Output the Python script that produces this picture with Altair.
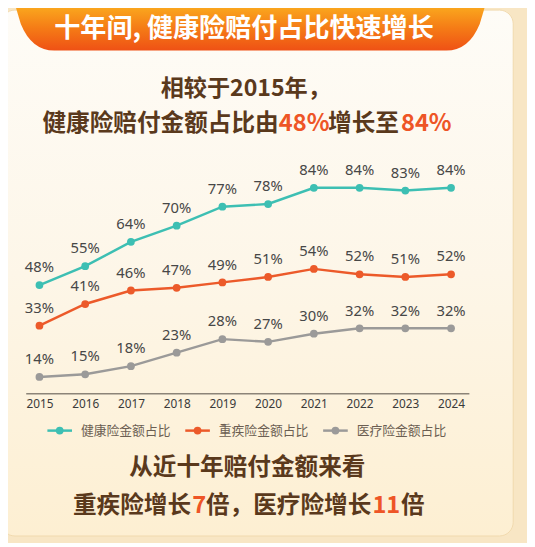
import altair as alt
import pandas as pd

# ---------------- data ----------------
years = [2015, 2016, 2017, 2018, 2019, 2020, 2021, 2022, 2023, 2024]
series_names = ["健康险金额占比", "重疾险金额占比", "医疗险金额占比"]
health = [48, 55, 64, 70, 77, 78, 84, 84, 83, 84]
critical = [33, 41, 46, 47, 49, 51, 54, 52, 51, 52]
medical = [14, 15, 18, 23, 28, 27, 30, 32, 32, 32]
series_colors = ["#3dbfb3", "#ec5a2a", "#9b9a99"]

title_text = "十年间, 健康险赔付占比快速增长"
sub_line1 = "相较于2015年，"
sub_line2 = [("健康险赔付金额占比由", "b"), ("48%", "o"), ("增长至", "b"), ("84%", "o")]
bottom_line1 = "从近十年赔付金额来看"
bottom_line2 = [("重疾险增长", "b"), ("7", "o"), ("倍，医疗险增长", "b"), ("11", "o"), ("倍", "b")]

rows = []
for name, vals in zip(series_names, [health, critical, medical]):
    for y, v in zip(years, vals):
        rows.append({"year": y, "series": name, "value": v, "label": f"{v}%"})
df = pd.DataFrame(rows)

# ---------------- layout helpers (page px -> plot px) ----------------
OX, OY = 26, 170          # page position of the plot origin
def px(x):
    return x - OX
def py(y):
    return y - OY

BROWN = "#5a391c"
ORANGE = "#ee5526"
CJK = "Noto Sans CJK SC"
one = alt.Data(values=[{}])

x_enc = alt.X("year:Q",
              scale=alt.Scale(domain=[2014.7, 2024.39], nice=False, zero=False),
              axis=alt.Axis(values=years, format="d", title=None, grid=False, ticks=False,
                            domainColor="#8c8478", domainWidth=1.5, labelFlush=False,
                            labelFont="Noto Sans", labelFontSize=12, labelColor="#3a3a3a",
                            labelPadding=6, zindex=1))
y_enc = alt.Y("value:Q", scale=alt.Scale(domain=[8, 90], nice=False, zero=False), axis=None)
color_enc = alt.Color("series:N", scale=alt.Scale(domain=series_names, range=series_colors),
                      legend=None)

# ---------------- background decoration ----------------
card = alt.Chart(one).mark_rect(
    cornerRadius=14,
    stroke="#f1d9ae", strokeWidth=1,
    fill=alt.Gradient(gradient="linear",
                      stops=[alt.GradientStop(color="#fefcf7", offset=0),
                             alt.GradientStop(color="#fdf6e8", offset=0.5),
                             alt.GradientStop(color="#fdefd2", offset=1)],
                      x1=0, x2=0, y1=0, y2=1),
).encode(x=alt.value(px(1)), x2=alt.value(px(521)), y=alt.value(py(6)), y2=alt.value(py(540)))

# banner shape (custom symbol path, unit box scaled by sqrt(size)/2)
HW = 239.0
banner_pts = "M -239 -23.5 L 239 -23.5 L 233 -3.5 Q 222 23.5 199 23.5 L -199 23.5 Q -222 23.5 -233 -3.5 Z"
def scale_path(p):
    out = []
    for tok in p.split():
        try:
            out.append(f"{float(tok) / HW:.5f}")
        except ValueError:
            out.append(tok)
    return " ".join(out)

banner = alt.Chart(one).mark_point(
    shape=scale_path(banner_pts), size=(2 * HW) ** 2, filled=True, opacity=1, strokeWidth=0,
    fill=alt.Gradient(gradient="linear",
                      stops=[alt.GradientStop(color="#fbad1f", offset=0),
                             alt.GradientStop(color="#f57d16", offset=0.5),
                             alt.GradientStop(color="#ef5115", offset=1)],
                      x1=0, x2=0, y1=0, y2=1),
).encode(x=alt.value(px(254)), y=alt.value(py(23.5)))

def txt(text, x, y, color, size, align="left", weight="bold", font=CJK):
    return alt.Chart(one).mark_text(
        text=text, align=align, baseline="middle", font=font, fontSize=size,
        fontWeight=weight, color=color,
    ).encode(x=alt.value(px(x)), y=alt.value(py(y)))

layers = [card, banner]
layers.append(txt(title_text, 55, 25.5, "#ffffff", 26.5))
layers.append(txt(sub_line1, 163, 86, BROWN, 23.5))
for (t, c), x in zip(sub_line2, [43, 283, 333, 407]):
    layers.append(txt(t, x, 122, ORANGE if c == "o" else BROWN, 24))
layers.append(txt(bottom_line1, 251, 471, BROWN, 24, align="center"))
for (t, c), x in zip(bottom_line2, [74, 195, 209, 378, 407]):
    layers.append(txt(t, x, 510, ORANGE if c == "o" else BROWN, 24))

# ---------------- data layers ----------------
base = alt.Chart(df).encode(x=x_enc, y=y_enc, color=color_enc, detail="series:N")
lines = base.mark_line(strokeWidth=2.5)
points = base.mark_point(filled=True, size=62, opacity=1)
labels = alt.Chart(df).mark_text(dy=-18, font="Noto Sans", fontSize=15, color="#474747").encode(
    x=x_enc, y=y_enc, text="label:N")
layers += [lines, points, labels]

# ---------------- manual legend ----------------
legend_left = [48, 188, 328]
LEG_Y = 433
for name, col, lx in zip(series_names, series_colors, legend_left):
    layers.append(alt.Chart(one).mark_rule(color=col, strokeWidth=2.5).encode(
        x=alt.value(px(lx)), x2=alt.value(px(lx + 25)), y=alt.value(py(LEG_Y))))
    layers.append(alt.Chart(one).mark_point(filled=True, size=62, opacity=1, color=col).encode(
        x=alt.value(px(lx + 12.5)), y=alt.value(py(LEG_Y))))
    layers.append(txt(name, lx + 34, LEG_Y, "#6b5e52", 13, weight="normal"))

chart = alt.layer(*layers).properties(
    width=450, height=225,
    padding={"left": 18, "top": 162, "right": 59, "bottom": 148},
    autosize=alt.AutoSizeParams(type="none"),
).configure(background="#f8e6c4").configure_view(stroke=None)

chart.save("out.html", embed_options={"renderer": "svg", "actions": False})
